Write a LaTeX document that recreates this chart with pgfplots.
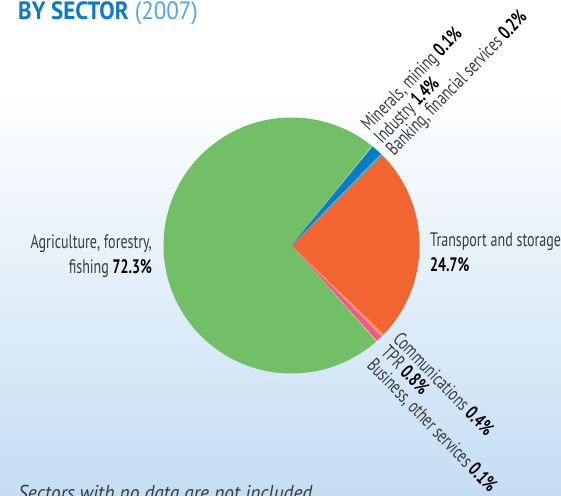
\documentclass[border=0pt]{standalone}
\usepackage{fontspec}
\usepackage{pgfplots}
\usepackage{pgfplotstable}
\pgfplotsset{compat=1.18}
\setmainfont{PT Sans}
\newfontfamily\lbl[FakeStretch=0.72]{PT Sans}
\newfontfamily\ttl[FakeStretch=0.92]{PT Sans}
\newfontfamily\note[FakeStretch=0.9]{PT Sans}

\definecolor{bgblue}{RGB}{196, 221, 243}
\definecolor{titleblue}{RGB}{10, 123, 193}
\definecolor{yearblue}{RGB}{80, 168, 222}
\definecolor{txt}{RGB}{60, 60, 60}
% slice colours, clockwise from Transport
\definecolor{sec0}{RGB}{242, 101, 50}   % transport
\definecolor{sec1}{RGB}{248, 150, 100}  % communications
\definecolor{sec2}{RGB}{236, 90, 150}   % TPR
\definecolor{sec3}{RGB}{245, 213, 65}   % business
\definecolor{sec4}{RGB}{114, 191, 104}  % agriculture
\definecolor{sec5}{RGB}{200, 223, 154}  % minerals
\definecolor{sec6}{RGB}{10, 124, 194}   % industry
\definecolor{sec7}{RGB}{53, 170, 225}   % banking

\pgfplotstableread{
sector pct
Transport 24.7
Communications 0.4
TPR 0.8
Business 0.1
Agriculture 72.3
Minerals 0.1
Industry 1.4
Banking 0.2
}\sectors

\begin{document}
\begin{tikzpicture}
\begin{axis}[
    scale only axis,
    width=561pt, height=495pt,
    xmin=-291.5, xmax=269.5,
    ymin=-249.5, ymax=245.5,
    hide axis,
    clip=false,
  ]
  % background
  \fill[white] (axis cs:-291.5,245.5) rectangle (axis cs:269.5,155.5);
  \shade[top color=white, bottom color=bgblue]
    (axis cs:-291.5,155.5) rectangle (axis cs:269.5,-249.5);

  % slices
  \pgfmathsetmacro\angA{45}
  \pgfplotsforeachungrouped \i in {0,...,7}{
    \pgfplotstablegetelem{\i}{pct}\of\sectors
    \pgfmathsetmacro\angB{\angA-3.6*\pgfplotsretval}
    \edef\temp{\noexpand\fill[sec\i] (axis cs:0,0) --
      (axis cs:{128*cos(\angA)},{128*sin(\angA)})
      arc[start angle=\angA, end angle=\angB, radius=128pt] -- cycle;}
    \temp
    \global\let\angA\angB
  }

  % labels
  \begin{scope}[every node/.style={text=txt, font=\lbl\fontsize{19.5}{22}\selectfont, inner sep=0pt}]
    \node[anchor=base east] at (axis cs:-139.5,-3.5) {Agriculture, forestry,};
    \node[anchor=base east] at (axis cs:-139.5,-28.5) {fishing \textbf{\color{black}72.3\%}};
    \node[anchor=base west] at (axis cs:138.5,-1.5) {Transport and storage};
    \node[anchor=base west] at (axis cs:138.5,-26.5) {\textbf{\color{black}24.7\%}};
    \node[anchor=base west, rotate=46] at (axis cs:77.5,113.5) {Minerals, mining \textbf{\color{black}0.1\%}};
    \node[anchor=base west, rotate=46] at (axis cs:90.5,100.5) {Industry \textbf{\color{black}1.4\%}};
    \node[anchor=base west, rotate=46] at (axis cs:102.5,88.5) {Banking, financial services \textbf{\color{black}0.2\%}};
    \node[anchor=base west, rotate=-46] at (axis cs:100.5,-94.5) {Communications \textbf{\color{black}0.4\%}};
    \node[anchor=base west, rotate=-46] at (axis cs:88.5,-107.5) {TPR \textbf{\color{black}0.8\%}};
    \node[anchor=base west, rotate=-46] at (axis cs:74.5,-120.5) {Business, other services \textbf{\color{black}0.1\%}};
  \end{scope}

  % title and note
  \node[anchor=base west, inner sep=0pt, font=\ttl\fontsize{25}{29}\selectfont]
    at (axis cs:-273.5,225.5) {\textbf{\color{titleblue}BY SECTOR} \color{yearblue}(2007)};
  \node[anchor=base west, inner sep=0pt, text=txt, font=\note\itshape\fontsize{21.5}{25}\selectfont]
    at (axis cs:-273.5,-254.5) {Sectors with no data are not included};
\end{axis}
\pgfresetboundingbox
\path[use as bounding box] (current axis.south west) rectangle (current axis.north east);
\end{tikzpicture}
\end{document}
